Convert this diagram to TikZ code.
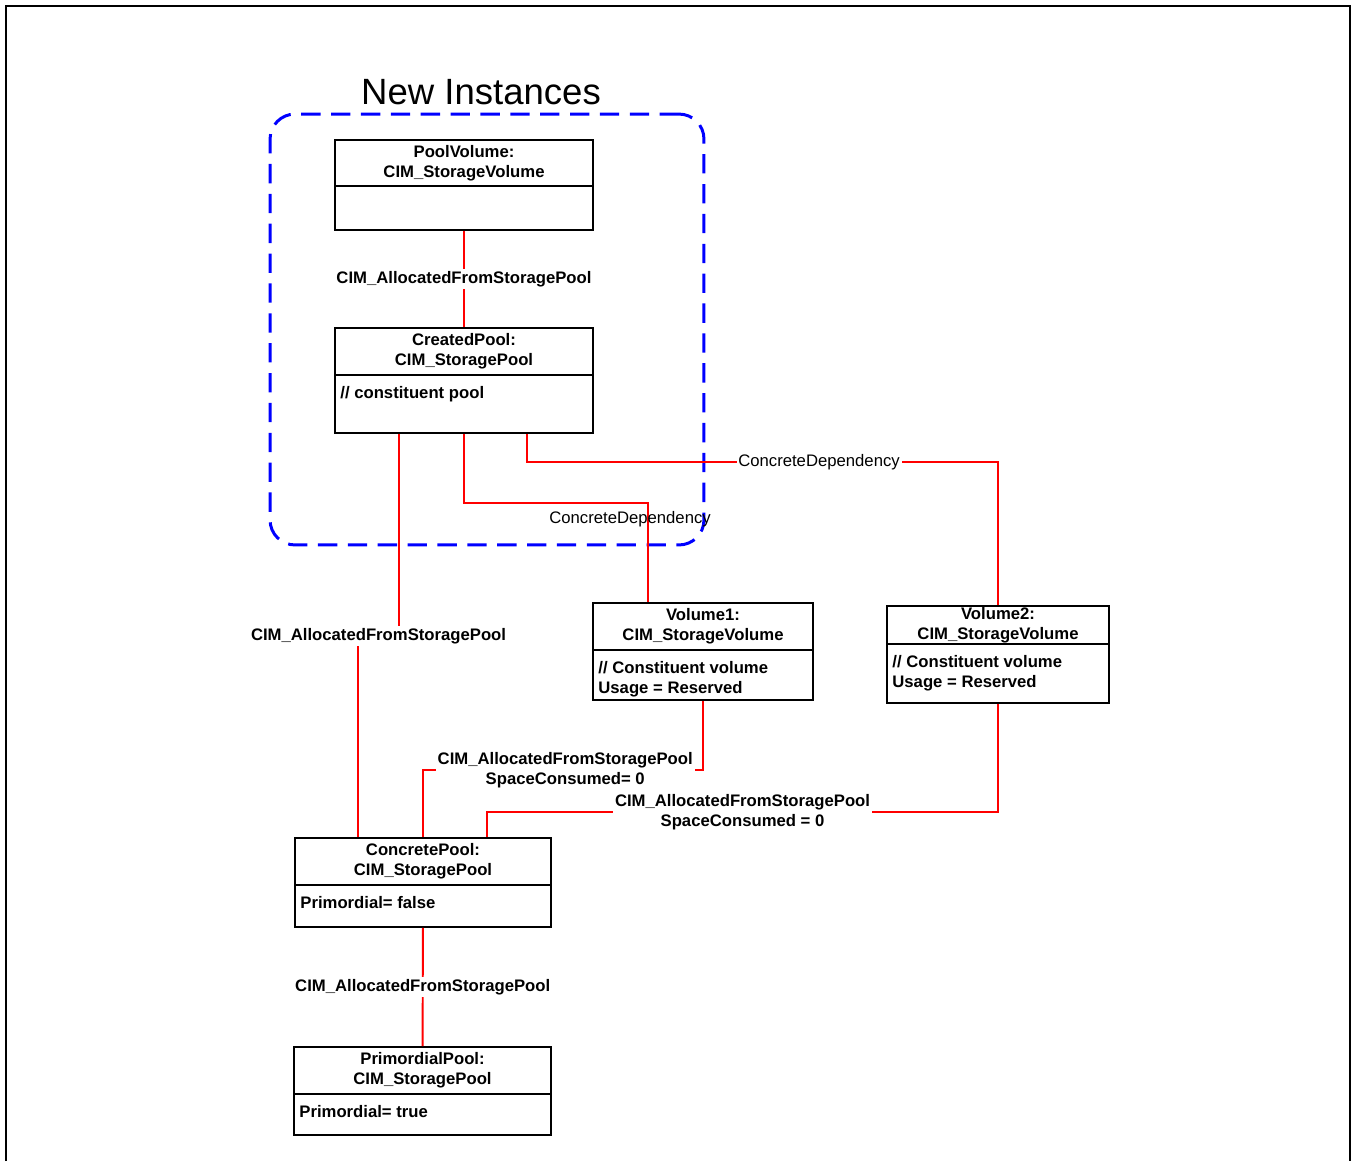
\documentclass[tikz,border=0pt]{standalone}
\usepackage{fontspec}
\setmainfont{Liberation Sans}
\usetikzlibrary{positioning}

\begin{document}
\begin{tikzpicture}[x=0.02cm,y=-0.02cm,
  every node/.style={font=\fontsize{9.5}{11.3}\selectfont},
  obj/.style={draw,line width=1.1pt,inner sep=0pt},
  hdr/.style={draw,line width=1.1pt,inner sep=0pt,anchor=north,align=center,
    font=\fontsize{9.5}{11.3}\selectfont\bfseries},
  attr/.style={anchor=north west,align=left,inner sep=0pt,
    font=\fontsize{9.5}{11.3}\selectfont\bfseries},
  assoc/.style={draw=red,line width=1.1pt},
  lbl/.style={fill=white,inner sep=1pt,align=center,
    font=\fontsize{9.5}{11.3}\selectfont\bfseries},
  dep/.style={inner sep=1pt}]
\useasboundingbox (0,0) rectangle (1352,1161);
\draw[line width=1.1pt] (6,1161) -- (6,6) -- (1350,6) -- (1350,1161);

\node[draw=blue,line width=1.7pt,dash pattern=on 11pt off 6pt,rounded corners=0.5cm,
  inner sep=0pt,minimum width=8.68cm,minimum height=8.62cm] (grp) at (487,329.5) {};
\node[font=\fontsize{20.8}{24}\selectfont] (title) at (481,92) {New Instances};

\node[obj,minimum width=5.16cm,minimum height=1.8cm] (poolvol) at (464,185) {};
\node[hdr,minimum width=5.16cm,minimum height=0.92cm] (poolvol-h) at (poolvol.north) {PoolVolume:\\CIM\_StorageVolume};

\node[obj,minimum width=5.16cm,minimum height=2.1cm] (created) at (464,380.5) {};
\node[hdr,minimum width=5.16cm,minimum height=0.94cm] (created-h) at (created.north) {CreatedPool:\\CIM\_StoragePool};
\node[attr] (created-a) at ([xshift=0.12cm,yshift=-0.2cm]created-h.south west) {// constituent pool};

\node[obj,minimum width=4.4cm,minimum height=1.94cm] (vol1) at (703,651.5) {};
\node[hdr,minimum width=4.4cm,minimum height=0.94cm] (vol1-h) at (vol1.north) {Volume1:\\CIM\_StorageVolume};
\node[attr] (vol1-a) at ([xshift=0.12cm,yshift=-0.2cm]vol1-h.south west) {// Constituent volume\\Usage = Reserved};

\node[obj,minimum width=4.44cm,minimum height=1.94cm] (vol2) at (998,654.5) {};
\node[hdr,minimum width=4.44cm,minimum height=0.76cm] (vol2-h) at (vol2.north) {Volume2:\\CIM\_StorageVolume};
\node[attr] (vol2-a) at ([xshift=0.12cm,yshift=-0.2cm]vol2-h.south west) {// Constituent volume\\Usage = Reserved};

\node[obj,minimum width=5.12cm,minimum height=1.78cm] (concrete) at (423,882.5) {};
\node[hdr,minimum width=5.12cm,minimum height=0.94cm] (concrete-h) at (concrete.north) {ConcretePool:\\CIM\_StoragePool};
\node[attr] (concrete-a) at ([xshift=0.12cm,yshift=-0.2cm]concrete-h.south west) {Primordial= false};

\node[obj,minimum width=5.14cm,minimum height=1.76cm] (primordial) at (422.5,1091) {};
\node[hdr,minimum width=5.14cm,minimum height=0.94cm] (primordial-h) at (primordial.north) {PrimordialPool:\\CIM\_StoragePool};
\node[attr] (primordial-a) at ([xshift=0.12cm,yshift=-0.2cm]primordial-h.south west) {Primordial= true};

\draw[assoc] (poolvol) -- node[lbl] {CIM\_AllocatedFromStoragePool} (created);
\draw[assoc] ([xshift=1.3cm]created.south west) -- ++(0,202)
  -- node[lbl] {CIM\_AllocatedFromStoragePool} ++(-41,0)
  -- ([xshift=1.28cm]concrete.north west);
\draw[assoc] (created.south) -- ++(0,69)
  -| node[dep,pos=0.58,xshift=-0.36cm] {ConcreteDependency} ([xshift=1.12cm]vol1.north west);
\draw[assoc] ([xshift=3.86cm]created.south west) -- ++(0,28)
  -| node[dep,fill=white,pos=0.31] {ConcreteDependency} (vol2.north);
\draw[assoc] (vol1.south) -- ++(0,69)
  -| node[lbl,pos=0.246] {CIM\_AllocatedFromStoragePool\\SpaceConsumed= 0} (concrete.north);
\draw[assoc] (vol2.south) -- ++(0,108)
  -| node[lbl,pos=0.25] {CIM\_AllocatedFromStoragePool\\SpaceConsumed = 0} ([xshift=3.86cm]concrete.north west);
\draw[assoc] (concrete) -- node[lbl] {CIM\_AllocatedFromStoragePool} (primordial);
\end{tikzpicture}
\end{document}
